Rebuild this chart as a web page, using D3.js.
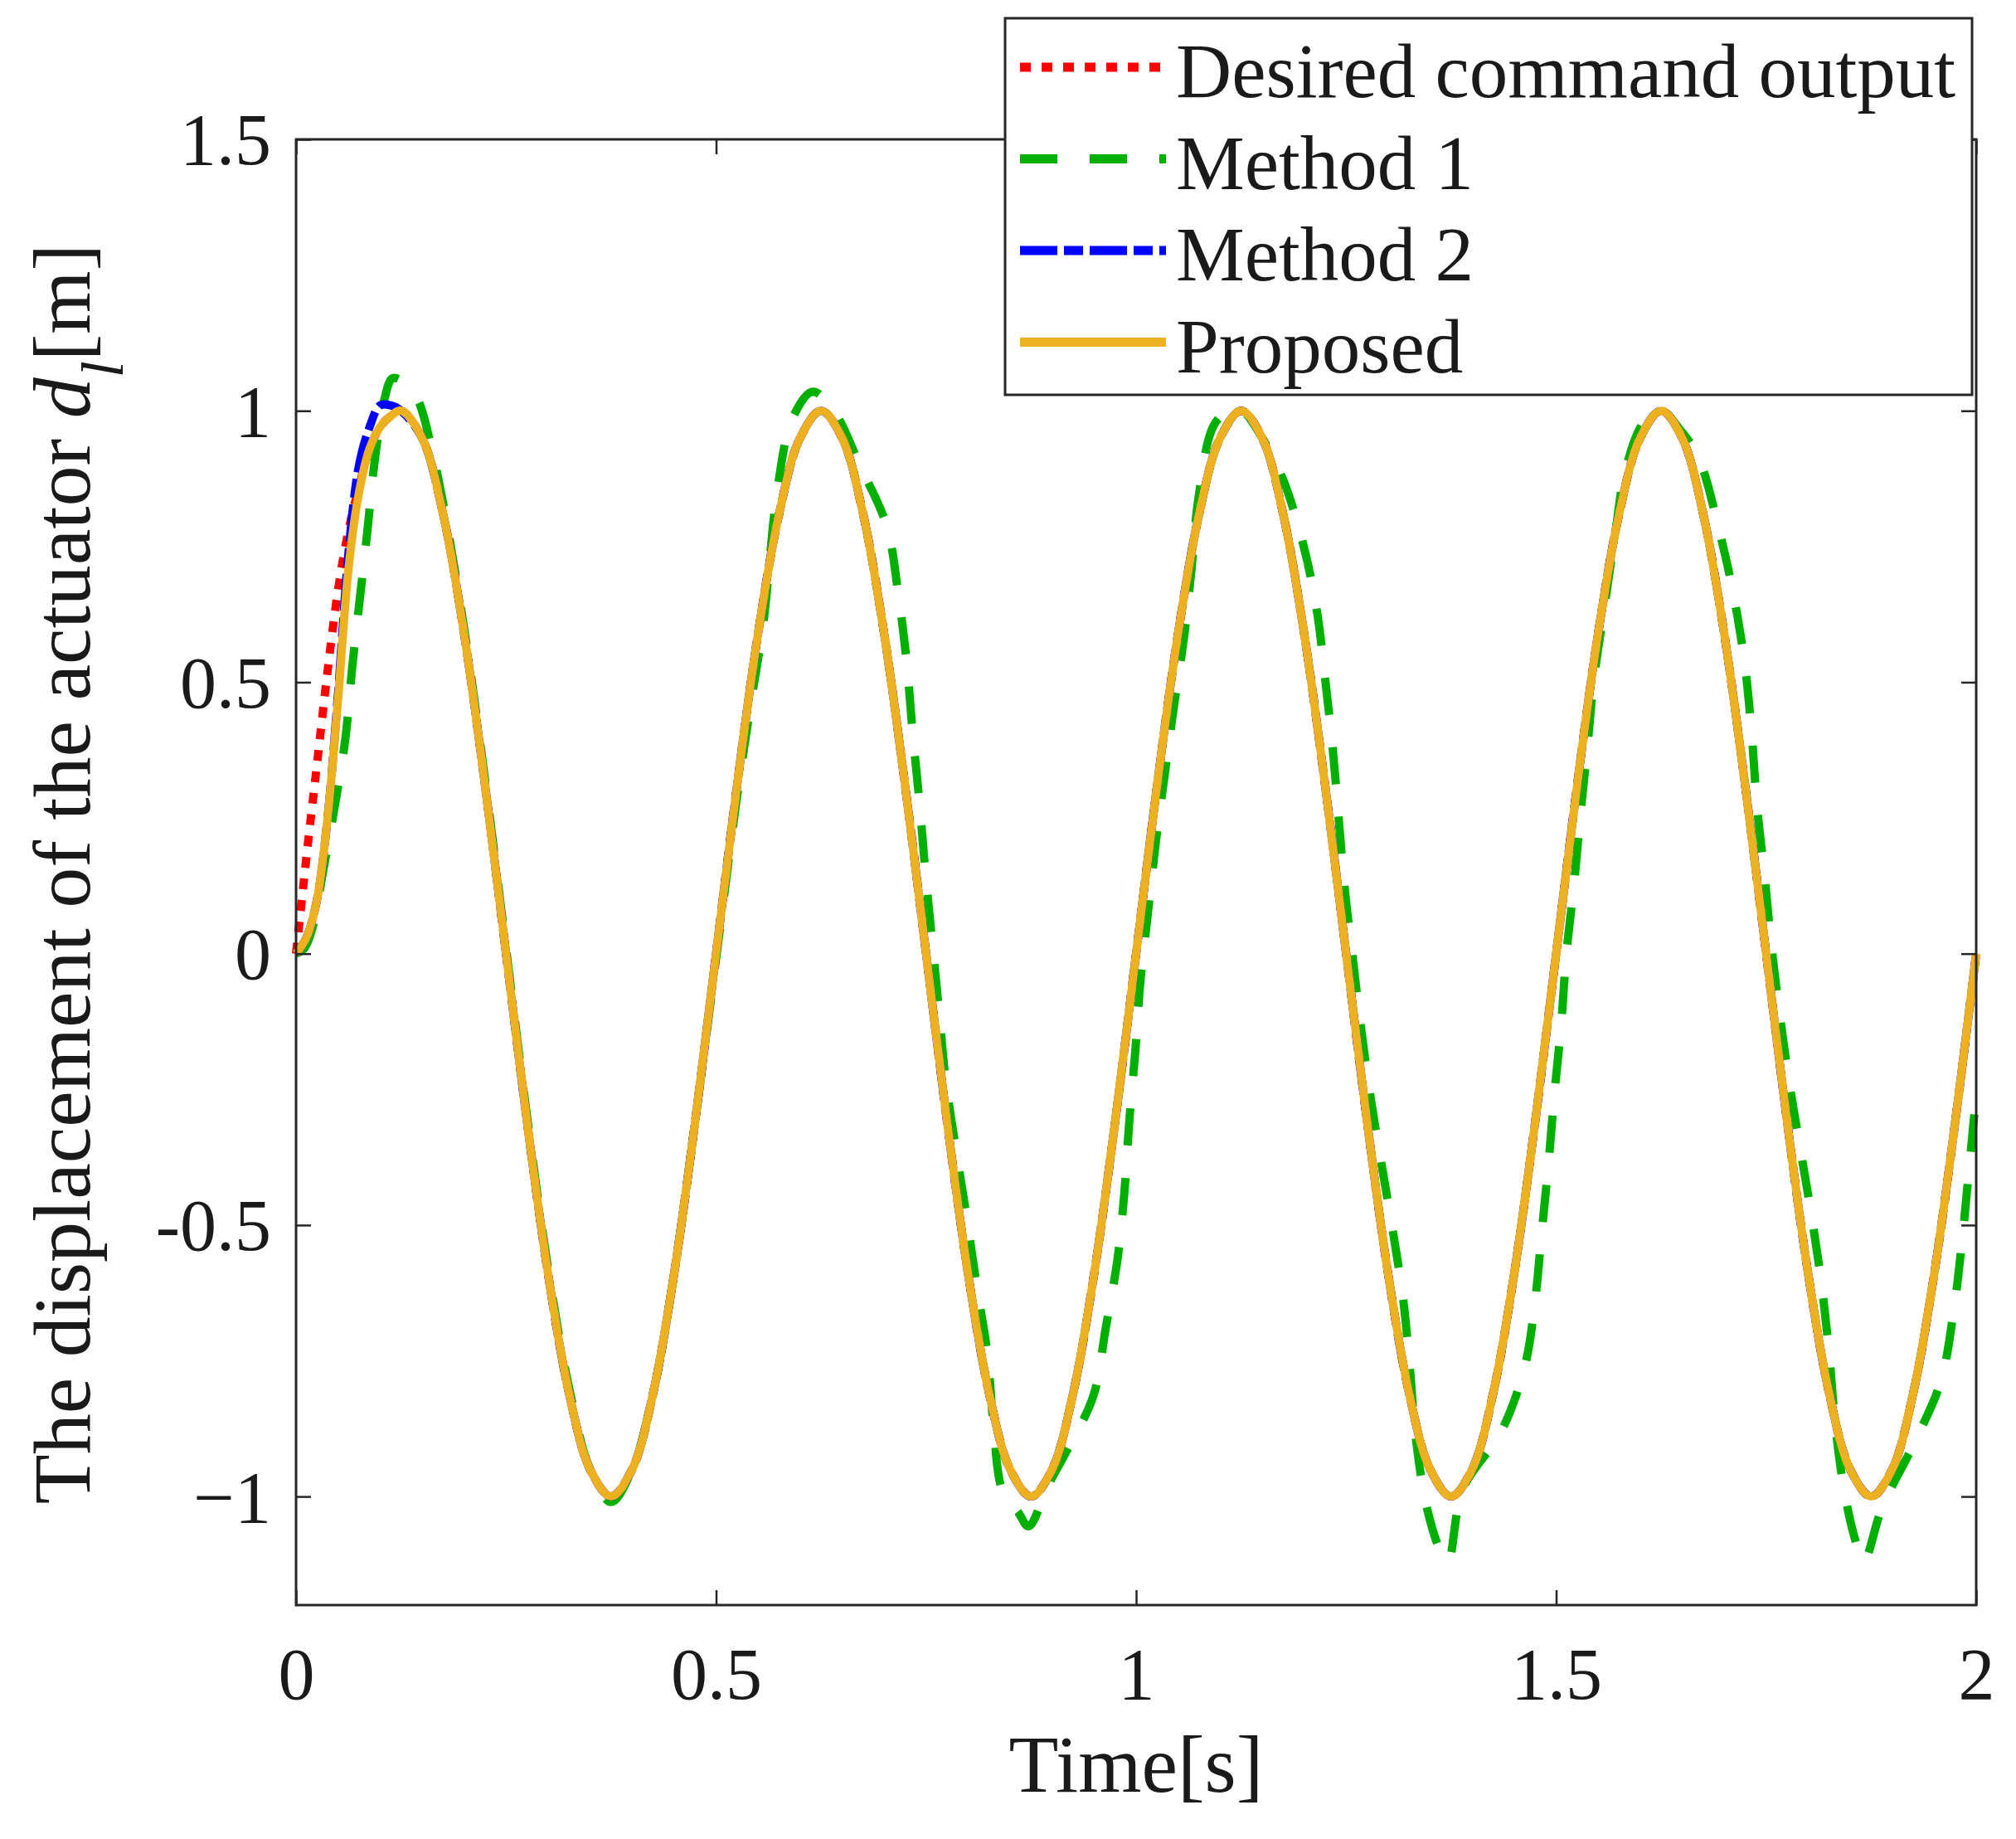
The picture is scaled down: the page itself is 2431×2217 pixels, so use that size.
<!DOCTYPE html>
<html>
<head>
<meta charset="utf-8">
<title>Displacement of the actuator</title>
<script src="https://cdnjs.cloudflare.com/ajax/libs/d3/7.8.5/d3.min.js"></script>
<style>
  body { margin: 0; background: #ffffff; }
  svg text, svg tspan { font-family: "Liberation Serif", "Times New Roman", serif; fill: #1a1a1a; }
</style>
</head>
<body>
<div id="chart"></div>
<script>
/*Sample times shared by the desired output, method 2 and the proposed controller*/
const sampleTime = [0, 0.0125, 0.025, 0.0375, 0.05, 0.0625, 0.075, 0.0875, 0.1, 0.1125, 0.125,
  0.15, 0.175, 0.2, 0.225, 0.25, 0.275, 0.3, 0.325, 0.35, 0.375, 0.4, 0.425, 0.45, 0.475,
  0.5, 0.525, 0.55, 0.575, 0.6, 0.625, 0.65, 0.675, 0.7, 0.725, 0.75, 0.775, 0.8, 0.825, 0.85, 0.875, 0.9, 0.925, 0.95, 0.975,
  1, 1.025, 1.05, 1.075, 1.1, 1.125, 1.15, 1.175, 1.2, 1.225, 1.25, 1.275, 1.3, 1.325, 1.35, 1.375, 1.4, 1.425, 1.45, 1.475,
  1.5, 1.525, 1.55, 1.575, 1.6, 1.625, 1.65, 1.675, 1.7, 1.725, 1.75, 1.775, 1.8, 1.825, 1.85, 1.875, 1.9, 1.925, 1.95, 1.975,
  2];

const desiredOutput = [0, 0.18, 0.35, 0.52, 0.67, 0.78, 0.86, 0.93, 0.97, 0.99, 1,
  0.95, 0.81, 0.59, 0.31, 0, -0.31, -0.59, -0.81, -0.95, -1, -0.95, -0.81, -0.59, -0.31,
  0, 0.31, 0.59, 0.81, 0.95, 1, 0.95, 0.81, 0.59, 0.31, 0, -0.31, -0.59, -0.81, -0.95, -1, -0.95, -0.81, -0.59, -0.31,
  0, 0.31, 0.59, 0.81, 0.95, 1, 0.95, 0.81, 0.59, 0.31, 0, -0.31, -0.59, -0.81, -0.95, -1, -0.95, -0.81, -0.59, -0.31,
  0, 0.31, 0.59, 0.81, 0.95, 1, 0.95, 0.81, 0.59, 0.31, 0, -0.31, -0.59, -0.81, -0.95, -1, -0.95, -0.81, -0.59, -0.31,
  0];

const method2Output = [0, 0.03, 0.10, 0.25, 0.48, 0.74, 0.90, 0.97, 1.01, 1.01, 1,
  0.95, 0.81, 0.59, 0.31, 0, -0.31, -0.59, -0.81, -0.95, -1, -0.95, -0.81, -0.59, -0.31,
  0, 0.31, 0.59, 0.81, 0.95, 1, 0.95, 0.81, 0.59, 0.31, 0, -0.31, -0.59, -0.81, -0.95, -1, -0.95, -0.81, -0.59, -0.31,
  0, 0.31, 0.59, 0.81, 0.95, 1, 0.95, 0.81, 0.59, 0.31, 0, -0.31, -0.59, -0.81, -0.95, -1, -0.95, -0.81, -0.59, -0.31,
  0, 0.31, 0.59, 0.81, 0.95, 1, 0.95, 0.81, 0.59, 0.31, 0, -0.31, -0.59, -0.81, -0.95, -1, -0.95, -0.81, -0.59, -0.31,
  0];

const proposedOutput = [0, 0.03, 0.10, 0.25, 0.47, 0.71, 0.85, 0.93, 0.97, 0.99, 1,
  0.95, 0.81, 0.59, 0.31, 0, -0.31, -0.59, -0.81, -0.95, -1, -0.95, -0.81, -0.59, -0.31,
  0, 0.31, 0.59, 0.81, 0.95, 1, 0.95, 0.81, 0.59, 0.31, 0, -0.31, -0.59, -0.81, -0.95, -1, -0.95, -0.81, -0.59, -0.31,
  0, 0.31, 0.59, 0.81, 0.95, 1, 0.95, 0.81, 0.59, 0.31, 0, -0.31, -0.59, -0.81, -0.95, -1, -0.95, -0.81, -0.59, -0.31,
  0, 0.31, 0.59, 0.81, 0.95, 1, 0.95, 0.81, 0.59, 0.31, 0, -0.31, -0.59, -0.81, -0.95, -1, -0.95, -0.81, -0.59, -0.31,
  0];

/*Method 1 lags and overshoots, so it gets its own (denser) sample times*/
const method1Time = [0, 0.01, 0.02, 0.032, 0.047, 0.059, 0.067, 0.076, 0.085, 0.093,
  0.105, 0.115, 0.13, 0.145, 0.16, 0.175, 0.2, 0.225, 0.25, 0.275,
  0.3, 0.325, 0.35, 0.375, 0.4, 0.425, 0.45, 0.475, 0.5, 0.525,
  0.543, 0.556, 0.574, 0.591, 0.615, 0.64, 0.671, 0.703, 0.717, 0.727,
  0.734, 0.742, 0.749, 0.757, 0.765, 0.773, 0.785, 0.798, 0.81, 0.823,
  0.83, 0.841, 0.86, 0.872, 0.895, 0.918, 0.949, 0.964, 0.978, 0.986,
  0.992, 0.999, 1.005, 1.014, 1.023, 1.034, 1.045, 1.057, 1.066, 1.074,
  1.092, 1.11, 1.126, 1.15, 1.175, 1.199, 1.215, 1.225, 1.234, 1.241,
  1.248, 1.258, 1.268, 1.279, 1.292, 1.306, 1.318, 1.326, 1.333, 1.346,
  1.362, 1.371, 1.389, 1.435, 1.463, 1.475, 1.483, 1.491, 1.498, 1.506,
  1.512, 1.521, 1.529, 1.537, 1.545, 1.557, 1.57, 1.583, 1.605, 1.626,
  1.645, 1.669, 1.694, 1.712, 1.725, 1.733, 1.739, 1.748, 1.756, 1.766,
  1.778, 1.791, 1.804, 1.816, 1.825, 1.832, 1.843, 1.856, 1.866, 1.888,
  1.929, 1.958, 1.973, 1.983, 1.991, 2];

const method1Output = [0, 0.01, 0.05, 0.15, 0.28, 0.40, 0.53, 0.655, 0.78, 0.90,
  1.02, 1.06, 1.05, 1.02, 0.94, 0.83, 0.60, 0.32, 0.01, -0.30,
  -0.58, -0.80, -0.95, -1.01, -0.95, -0.81, -0.59, -0.31, -0.01, 0.29,
  0.477, 0.605, 0.866, 0.986, 1.035, 1.0, 0.90, 0.788, 0.661, 0.534,
  0.407, 0.28, 0.153, 0.025, -0.10, -0.229, -0.356, -0.483, -0.61, -0.737,
  -0.864, -0.99, -1.03, -1.055, -0.98, -0.914, -0.815, -0.688, -0.561, -0.44,
  -0.306, -0.18, -0.052, 0.075, 0.20, 0.33, 0.456, 0.583, 0.71, 0.837,
  0.972, 1.0, 1.0, 0.95, 0.873, 0.753, 0.633, 0.506, 0.378, 0.251,
  0.124, -0.01, -0.14, -0.264, -0.387, -0.515, -0.638, -0.766, -0.893, -1.02,
  -1.10, -1.12, -0.986, -0.879, -0.758, -0.638, -0.511, -0.384, -0.257, -0.13,
  -0.003, 0.124, 0.258, 0.378, 0.506, 0.633, 0.77, 0.894, 0.98, 1.0,
  0.97, 0.915, 0.78, 0.654, 0.527, 0.40, 0.273, 0.145, 0.018, -0.11,
  -0.243, -0.363, -0.483, -0.61, -0.737, -0.864, -0.99, -1.08, -1.12, -1.02,
  -0.893, -0.787, -0.66, -0.532, -0.405, -0.26];

/*Axis ticks and labels*/
const xTickValues = [0, 0.5, 1, 1.5, 2];
const xTickLabels = ["0", "0.5", "1", "1.5", "2"];
const yTickValues = [-1, -0.5, 0, 0.5, 1, 1.5];
const yTickLabels = ["\u22121", "-0.5", "0", "0.5", "1", "1.5"];

const seriesNames = ["Desired command output", "Method 1", "Method 2", "Proposed"];

document.addEventListener("DOMContentLoaded", function(){

  const chartWidth = 2431;
  const chartHeight = 2217;
  const plot = {left: 357, right: 2383, top: 168, bottom: 1935};
  const tickLength = 18;
  const axisColor = "#262626";
  const serifFont = "'Liberation Serif', 'Times New Roman', serif";

  /*Line styles, same order as seriesNames*/
  const styles = [
    {color: "#ff0000", width: 10, dash: "13 13"},
    {color: "#00b000", width: 10, dash: "45 39"},
    {color: "#0000ff", width: 10, dash: "45 8 23 8"},
    {color: "#edb120", width: 10, dash: null}
  ];

  const zip = (times, values) => times.map((t, i) => ({t: t, v: values[i]}));
  const series = [
    zip(sampleTime, desiredOutput),
    zip(method1Time, method1Output),
    zip(sampleTime, method2Output),
    zip(sampleTime, proposedOutput)
  ];

  const xScale = d3.scaleLinear().domain([0, 2]).range([plot.left, plot.right]);
  const yScale = d3.scaleLinear().domain([-1.2, 1.5]).range([plot.bottom, plot.top]);

  const svg = d3.select("#chart")
    .append("svg")
    .attr("width", chartWidth)
    .attr("height", chartHeight)
    .attr("font-family", serifFont);

  /*Curves*/
  const lineGen = d3.line()
    .x(d => xScale(d.t))
    .y(d => yScale(d.v))
    .curve(d3.curveCatmullRom.alpha(0.5));

  svg.append("g")
    .attr("id", "curves")
    .selectAll("path")
    .data(series)
    .enter()
    .append("path")
    .attr("d", lineGen)
    .attr("fill", "none")
    .attr("stroke", (d, i) => styles[i].color)
    .attr("stroke-width", (d, i) => styles[i].width)
    .attr("stroke-dasharray", (d, i) => styles[i].dash)
    .attr("stroke-linejoin", "round");

  /*Axes: ticks point inside on all four sides (box on)*/
  const styleAxis = (g) => {
    g.attr("font-family", serifFont);
    g.select(".domain").remove();
    g.selectAll(".tick line").attr("stroke", axisColor).attr("stroke-width", 2.5);
    g.selectAll(".tick text").attr("font-size", 88).attr("fill", "#1a1a1a");
  };

  svg.append("g")
    .attr("transform", "translate(0," + plot.bottom + ")")
    .call(d3.axisBottom(xScale).tickValues(xTickValues)
      .tickFormat((d, i) => xTickLabels[i])
      .tickSizeInner(-tickLength).tickSizeOuter(0).tickPadding(51))
    .call(styleAxis);

  svg.append("g")
    .attr("transform", "translate(" + plot.left + ",0)")
    .call(d3.axisLeft(yScale).tickValues(yTickValues)
      .tickFormat((d, i) => yTickLabels[i])
      .tickSizeInner(-tickLength).tickSizeOuter(0).tickPadding(30))
    .call(styleAxis)
    .selectAll(".tick text").attr("dy", "0.34em");

  svg.append("g")
    .attr("transform", "translate(0," + plot.top + ")")
    .call(d3.axisTop(xScale).tickValues(xTickValues).tickFormat("")
      .tickSizeInner(-tickLength).tickSizeOuter(0))
    .call(styleAxis);

  svg.append("g")
    .attr("transform", "translate(" + plot.right + ",0)")
    .call(d3.axisRight(yScale).tickValues(yTickValues).tickFormat("")
      .tickSizeInner(-tickLength).tickSizeOuter(0))
    .call(styleAxis);

  svg.append("rect")
    .attr("x", plot.left)
    .attr("y", plot.top)
    .attr("width", plot.right - plot.left)
    .attr("height", plot.bottom - plot.top)
    .attr("fill", "none")
    .attr("stroke", axisColor)
    .attr("stroke-width", 3);

  /*Axis titles*/
  svg.append("text")
    .attr("x", (plot.left + plot.right) / 2)
    .attr("y", 2160)
    .attr("text-anchor", "middle")
    .attr("font-family", serifFont)
    .attr("font-size", 98)
    .text("Time[s]");

  const yTitle = svg.append("text")
    .attr("transform", "translate(108," + ((plot.top + plot.bottom) / 2 + 2) + ") rotate(-90)")
    .attr("text-anchor", "middle")
    .attr("font-family", serifFont)
    .style("font-family", serifFont)
    .attr("font-size", 98);
  yTitle.append("tspan").style("font-family", serifFont).text("The displacement of the actuator ");
  yTitle.append("tspan").style("font-family", serifFont).attr("font-style", "italic").text("d");
  yTitle.append("tspan").style("font-family", serifFont).attr("font-style", "italic")
    .attr("font-size", 72).attr("dy", 40).text("l");
  yTitle.append("tspan").style("font-family", serifFont).attr("dy", -40).text("[m]");

  /*Legend*/
  const legend = {left: 1212, top: 22, right: 2378, bottom: 476, firstRow: 81, rowStep: 110.5};

  const legendGroup = svg.append("g").attr("id", "legend");

  legendGroup.append("rect")
    .attr("x", legend.left)
    .attr("y", legend.top)
    .attr("width", legend.right - legend.left)
    .attr("height", legend.bottom - legend.top)
    .attr("fill", "#ffffff")
    .attr("stroke", axisColor)
    .attr("stroke-width", 3);

  const rows = legendGroup.selectAll("g.row")
    .data(seriesNames)
    .enter()
    .append("g")
    .attr("class", "row")
    .attr("transform", (d, i) => "translate(0," + (legend.firstRow + i * legend.rowStep) + ")");

  rows.append("line")
    .attr("x1", 1230)
    .attr("x2", 1406)
    .attr("y1", 0)
    .attr("y2", 0)
    .attr("stroke", (d, i) => styles[i].color)
    .attr("stroke-width", (d, i) => styles[i].width + 1)
    .attr("stroke-dasharray", (d, i) => styles[i].dash);

  rows.append("text")
    .attr("x", 1418)
    .attr("y", 36)
    .attr("font-family", serifFont)
    .attr("font-size", 93)
    .text(d => d);
});
</script>
</body>
</html>
